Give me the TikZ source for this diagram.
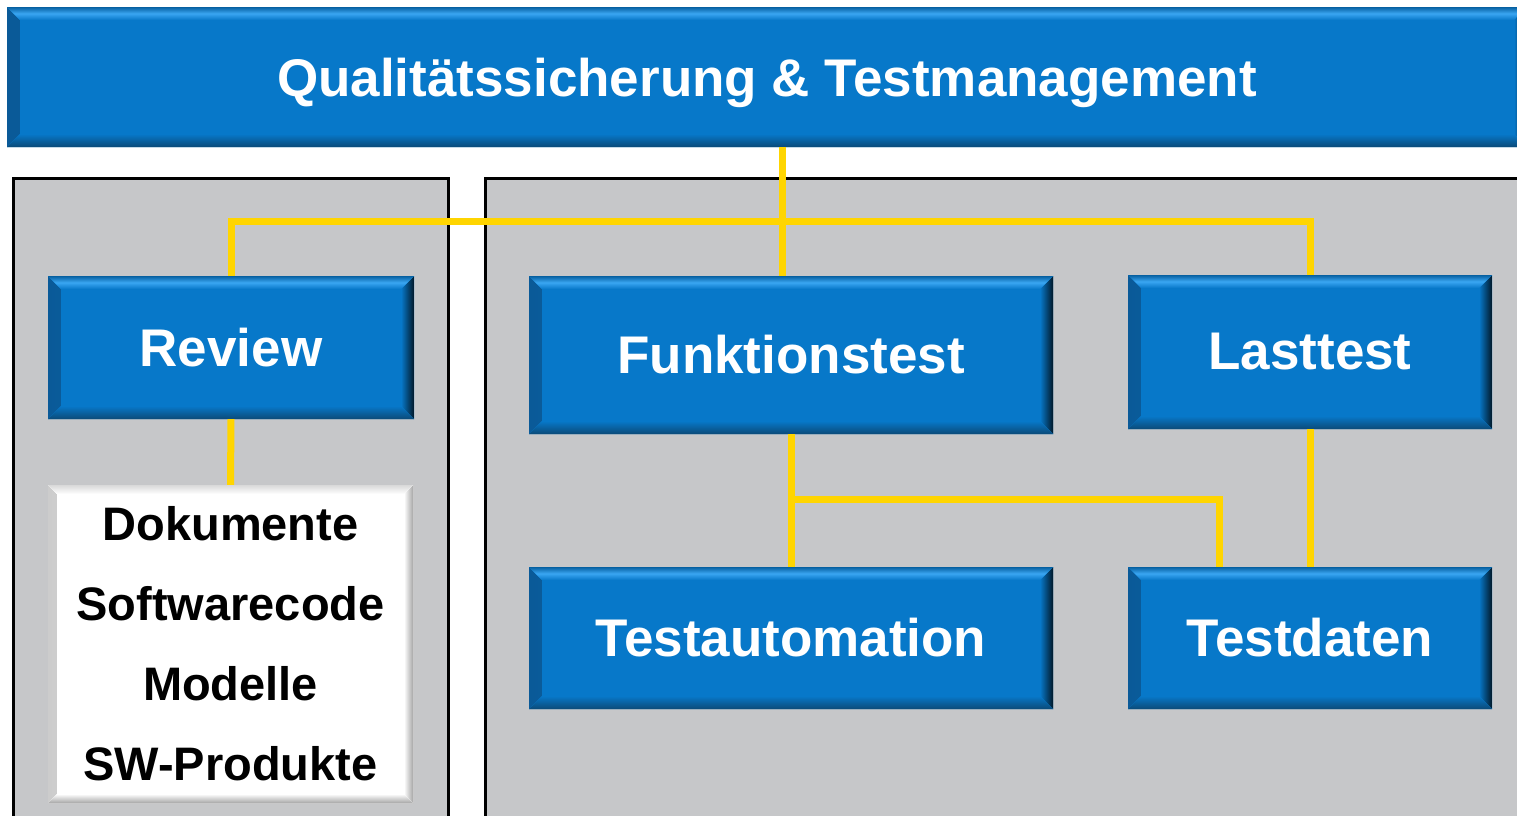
\documentclass[tikz,border=0pt]{standalone}
\usepackage{fontspec}
\setmainfont{Liberation Sans}
\definecolor{boxblue}{HTML}{0778C9}
\definecolor{bevlight}{HTML}{3AA6F2}
\definecolor{bevdark}{HTML}{0B4A78}
\definecolor{bevside}{HTML}{0A5A98}
\definecolor{panelgray}{HTML}{C6C7C9}
\definecolor{lineyellow}{HTML}{FFD500}
\tikzset{
  bevelblue/.style={rectangle, fill=boxblue, inner sep=0pt, text=white,
    font=\bfseries\fontsize{53}{60}\selectfont,
    path picture={
      \def\b{13}
      \fill[left color=bevside, right color=boxblue]
        (path picture bounding box.north west) -- ([xshift=\b pt,yshift=-\b pt]path picture bounding box.north west)
        -- ([xshift=\b pt,yshift=\b pt]path picture bounding box.south west) -- (path picture bounding box.south west) -- cycle;
      \fill[right color=black!80!boxblue, left color=boxblue]
        (path picture bounding box.north east) -- ([xshift=-\b pt,yshift=-\b pt]path picture bounding box.north east)
        -- ([xshift=-\b pt,yshift=\b pt]path picture bounding box.south east) -- (path picture bounding box.south east) -- cycle;
      \fill[top color=boxblue!80!black, bottom color=boxblue, middle color=bevlight]
        (path picture bounding box.north west) -- (path picture bounding box.north east)
        -- ([xshift=-\b pt,yshift=-\b pt]path picture bounding box.north east) -- ([xshift=\b pt,yshift=-\b pt]path picture bounding box.north west) -- cycle;
      \fill[top color=boxblue, bottom color=bevdark]
        (path picture bounding box.south west) -- (path picture bounding box.south east)
        -- ([xshift=-\b pt,yshift=\b pt]path picture bounding box.south east) -- ([xshift=\b pt,yshift=\b pt]path picture bounding box.south west) -- cycle;
      \fill[boxblue] ([xshift=\b pt,yshift=-\b pt]path picture bounding box.north west) rectangle ([xshift=-\b pt,yshift=\b pt]path picture bounding box.south east);
    }},
  bevelwhite/.style={rectangle, fill=white, inner sep=0pt, text=black,
    font=\bfseries\fontsize{47}{80}\selectfont, align=center,
    path picture={
      \def\b{9}
      \fill[left color=gray!40, right color=white]
        (path picture bounding box.north west) -- ([xshift=\b pt,yshift=-\b pt]path picture bounding box.north west)
        -- ([xshift=\b pt,yshift=\b pt]path picture bounding box.south west) -- (path picture bounding box.south west) -- cycle;
      \fill[right color=gray!70, left color=white]
        (path picture bounding box.north east) -- ([xshift=-\b pt,yshift=-\b pt]path picture bounding box.north east)
        -- ([xshift=-\b pt,yshift=\b pt]path picture bounding box.south east) -- (path picture bounding box.south east) -- cycle;
      \fill[top color=gray!30, bottom color=white]
        (path picture bounding box.north west) -- (path picture bounding box.north east)
        -- ([xshift=-\b pt,yshift=-\b pt]path picture bounding box.north east) -- ([xshift=\b pt,yshift=-\b pt]path picture bounding box.north west) -- cycle;
      \fill[top color=white, bottom color=gray!70]
        (path picture bounding box.south west) -- (path picture bounding box.south east)
        -- ([xshift=-\b pt,yshift=\b pt]path picture bounding box.south east) -- ([xshift=\b pt,yshift=\b pt]path picture bounding box.south west) -- cycle;
      \fill[white] ([xshift=\b pt,yshift=-\b pt]path picture bounding box.north west) rectangle ([xshift=-\b pt,yshift=\b pt]path picture bounding box.south east);
    }},
  panel/.style={fill=panelgray, draw=black, line width=3pt},
  conn/.style={draw=lineyellow, line width=7pt},
}
\begin{document}
\begin{tikzpicture}[x=1pt,y=-1pt]
\useasboundingbox (0,0) rectangle (1517,815);
\clip (0,0) rectangle (1517,815);
\fill[white] (0,0) rectangle (1517,815);
% panels
\path[panel] (13.5,178.5) rectangle (448.5,830);
\path[panel] (485.5,178.5) rectangle (1530,830);
% nodes
\node[bevelblue, minimum width=1520pt, minimum height=140pt, font=\bfseries\fontsize{53}{60}\selectfont] (title) at (767,77) {\raisebox{-19pt}[0pt][0pt]{Qualitätssicherung \& Testmanagement}};
\node[bevelblue, minimum width=366pt, minimum height=143pt] (review) at (231,347.5) {Review};
\node[bevelwhite, minimum width=365pt, minimum height=318pt] (docs) at (230.5,644) {Dokumente\\Softwarecode\\Modelle\\SW-Produkte};
\node[bevelblue, minimum width=524pt, minimum height=158pt] (funk) at (791,355) {Funktionstest};
\node[bevelblue, minimum width=364pt, minimum height=154pt] (last) at (1310,352) {Lasttest};
\node[bevelblue, minimum width=524pt, minimum height=142pt] (auto) at (791,638) {Testautomation};
\node[bevelblue, minimum width=364pt, minimum height=142pt] (daten) at (1310,638) {Testdaten};
% junctions
\coordinate (j1) at (782,221);
\coordinate (j2) at (791,499);
\coordinate (j3) at (1219,499);
% connectors
\draw[conn] (title.south -| j1) -- (j1);
\draw[conn] (review.north) |- (j1) -| (last.north);
\draw[conn] (j1) -- (j1 |- funk.north);
\draw[conn] (review.south) -- (docs.north);
\draw[conn] (funk.south) -- (auto.north);
\draw[conn] (j2) -- (j3) -- (j3 |- daten.north);
\draw[conn] (last.south) -- (daten.north);
\end{tikzpicture}
\end{document}
